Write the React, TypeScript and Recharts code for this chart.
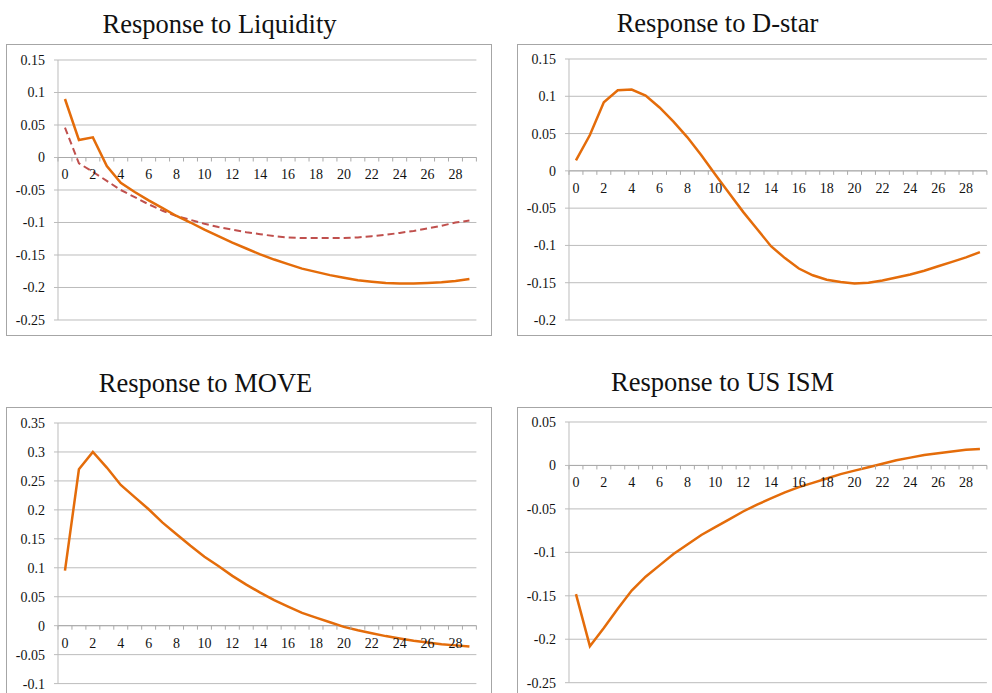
import React from 'react';
import {
  LineChart,
  Line,
  XAxis,
  YAxis,
  CartesianGrid,
  ReferenceLine,
  ReferenceDot
} from 'recharts';

// Horizon (periods after the shock)
const PERIODS = [0, 1, 2, 3, 4, 5, 6, 7, 8, 9, 10, 11, 12, 13, 14, 15, 16, 17, 18, 19, 20, 21, 22, 23, 24, 25, 26, 27, 28, 29];
const PERIOD_LABELS = [0, 2, 4, 6, 8, 10, 12, 14, 16, 18, 20, 22, 24, 26, 28];

// Responses
const LIQUIDITY = [0.09, 0.027, 0.031, -0.013, -0.039, -0.053, -0.066, -0.078, -0.09, -0.1, -0.111, -0.121, -0.131, -0.14, -0.149, -0.157, -0.164, -0.171, -0.176, -0.181, -0.185, -0.189, -0.191, -0.193, -0.194, -0.194, -0.193, -0.192, -0.19, -0.187];
const LIQUIDITY_ALT = [0.046, -0.009, -0.022, -0.036, -0.05, -0.061, -0.072, -0.082, -0.09, -0.096, -0.102, -0.107, -0.111, -0.115, -0.118, -0.121, -0.123, -0.124, -0.124, -0.124, -0.124, -0.123, -0.121, -0.119, -0.116, -0.113, -0.109, -0.105, -0.1, -0.097];
const DSTAR = [0.014, 0.048, 0.092, 0.108, 0.109, 0.101, 0.085, 0.066, 0.045, 0.021, -0.005, -0.03, -0.055, -0.078, -0.101, -0.117, -0.131, -0.14, -0.146, -0.149, -0.151, -0.15, -0.147, -0.143, -0.139, -0.134, -0.128, -0.122, -0.116, -0.109];
const MOVE = [0.095, 0.27, 0.3, 0.273, 0.243, 0.222, 0.201, 0.178, 0.158, 0.138, 0.119, 0.103, 0.086, 0.071, 0.057, 0.044, 0.033, 0.022, 0.014, 0.006, -0.002, -0.008, -0.013, -0.018, -0.022, -0.026, -0.029, -0.032, -0.034, -0.036];
const US_ISM = [-0.148, -0.208, -0.187, -0.165, -0.144, -0.128, -0.115, -0.102, -0.091, -0.08, -0.071, -0.062, -0.053, -0.045, -0.038, -0.031, -0.025, -0.02, -0.015, -0.01, -0.006, -0.002, 0.002, 0.006, 0.009, 0.012, 0.014, 0.016, 0.018, 0.019];

// Y ticks per panel
const LIQUIDITY_TICKS = [0.15, 0.1, 0.05, 0, -0.05, -0.1, -0.15, -0.2, -0.25];
const DSTAR_TICKS = [0.15, 0.1, 0.05, 0, -0.05, -0.1, -0.15, -0.2];
const MOVE_TICKS = [0.35, 0.3, 0.25, 0.2, 0.15, 0.1, 0.05, 0, -0.05, -0.1];
const US_ISM_TICKS = [0.05, 0, -0.05, -0.1, -0.15, -0.2, -0.25];

const ORANGE = '#E46C0A';
const DASH_RED = '#C0504D';
const GRID = '#bcbcbc';
const FONT = '"Liberation Serif", "Times New Roman", serif';

const boundaries = [...PERIODS.map((p) => p - 0.5), PERIODS[PERIODS.length - 1] + 0.5];

const fmt = (v: number) => String(Number(v.toFixed(2)));

interface SeriesDef {
  values: number[];
  color: string;
  width: number;
  dash?: string;
}

interface PanelProps {
  title: string;
  titleCenter: number;
  titleTop: number;
  boxLeft: number;
  boxTop: number;
  boxWidth: number;
  boxHeight: number;
  chartLeft: number;
  chartTop: number;
  width: number;
  height: number;
  ticks: number[];
  series: SeriesDef[];
}

const Panel: React.FC<PanelProps> = ({
  title, titleCenter, titleTop, boxLeft, boxTop, boxWidth, boxHeight,
  chartLeft, chartTop, width, height, ticks, series
}) => {
  const data = PERIODS.map((t, i) => {
    const row: Record<string, number> = { t };
    series.forEach((s, k) => { row[`s${k}`] = s.values[i]; });
    return row;
  });
  const lo = Math.min(...ticks);
  const hi = Math.max(...ticks);

  return (
    <>
      <div style={{
        position: 'absolute', left: titleCenter - 200, top: titleTop, width: 400,
        textAlign: 'center', fontFamily: FONT, fontSize: 26.5, lineHeight: '30px', color: '#111'
      }}>{title}</div>
      <div style={{
        position: 'absolute', left: boxLeft, top: boxTop, width: boxWidth, height: boxHeight,
        boxSizing: 'border-box', border: '1.5px solid #a6a6a6'
      }} />
      <div style={{ position: 'absolute', left: chartLeft, top: chartTop }}>
        <LineChart width={width} height={height} data={data} margin={{ top: 10, right: 5, bottom: 10, left: 0 }}>
          <CartesianGrid vertical={false} stroke={GRID} strokeWidth={1} />
          <XAxis type="number" dataKey="t" domain={[-0.5, 29.5]} hide />
          <YAxis
            width={50}
            domain={[lo, hi]}
            ticks={ticks}
            interval={0}
            tickFormatter={fmt}
            tickSize={4}
            tickMargin={9}
            stroke={GRID}
            tickLine={{ stroke: GRID }}
            axisLine={{ stroke: GRID }}
            tick={{ fontSize: 14, fill: '#111', fontFamily: FONT }}
          />
          <ReferenceLine y={0} stroke="#aaaaaa" strokeWidth={1} />
          {boundaries.map((b) => (
            <ReferenceDot
              key={`tk-${b}`}
              x={b}
              y={0}
              r={0}
              ifOverflow="visible"
              shape={(p: any) => <line x1={p.cx} y1={p.cy} x2={p.cx} y2={p.cy + 4} stroke="#aaaaaa" strokeWidth={1} />}
            />
          ))}
          {PERIOD_LABELS.map((l) => (
            <ReferenceDot
              key={`lb-${l}`}
              x={l}
              y={0}
              r={0}
              ifOverflow="visible"
              shape={(p: any) => (
                <text x={p.cx} y={p.cy + 22} textAnchor="middle" fontSize={14} fill="#111" fontFamily={FONT}>{l}</text>
              )}
            />
          ))}
          {series.map((s, k) => (
            <Line
              key={k}
              type="linear"
              dataKey={`s${k}`}
              stroke={s.color}
              strokeWidth={s.width}
              strokeDasharray={s.dash}
              dot={false}
              activeDot={false}
              isAnimationActive={false}
            />
          ))}
        </LineChart>
      </div>
    </>
  );
};

export default function App() {
  return (
    <div style={{ position: 'fixed', left: 0, top: 0, width: 992, height: 693, overflow: 'hidden', background: '#fff' }}>
      <Panel
        title="Response to Liquidity" titleCenter={219.5} titleTop={9}
        boxLeft={6} boxTop={43.5} boxWidth={485.5} boxHeight={292}
        chartLeft={8.3} chartTop={50} width={473.4} height={280}
        ticks={LIQUIDITY_TICKS}
        series={[
          { values: LIQUIDITY_ALT, color: DASH_RED, width: 2, dash: '7 4' },
          { values: LIQUIDITY, color: ORANGE, width: 2.5 }
        ]}
      />
      <Panel
        title="Response to D-star" titleCenter={717.5} titleTop={8}
        boxLeft={516.5} boxTop={43.5} boxWidth={500} boxHeight={292}
        chartLeft={519.3} chartTop={49} width={472.9} height={281}
        ticks={DSTAR_TICKS}
        series={[{ values: DSTAR, color: ORANGE, width: 2.5 }]}
      />
      <Panel
        title="Response to MOVE" titleCenter={205.5} titleTop={367.5}
        boxLeft={6} boxTop={406.5} boxWidth={485.5} boxHeight={300}
        chartLeft={8.3} chartTop={412.7} width={473.4} height={280.6}
        ticks={MOVE_TICKS}
        series={[{ values: MOVE, color: ORANGE, width: 2.5 }]}
      />
      <Panel
        title="Response to US ISM" titleCenter={722.5} titleTop={367}
        boxLeft={516.5} boxTop={406.5} boxWidth={500} boxHeight={300}
        chartLeft={519.3} chartTop={412} width={472.9} height={280.7}
        ticks={US_ISM_TICKS}
        series={[{ values: US_ISM, color: ORANGE, width: 2.5 }]}
      />
    </div>
  );
}
